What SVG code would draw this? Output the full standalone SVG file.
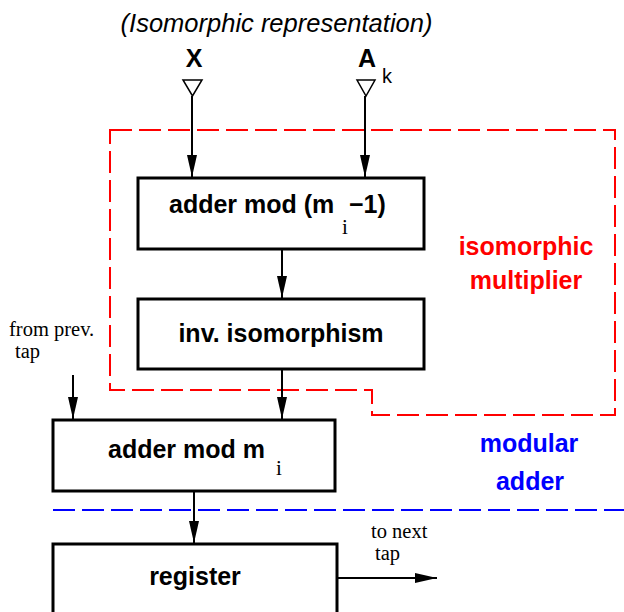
<svg xmlns="http://www.w3.org/2000/svg" width="624" height="612" viewBox="0 0 624 612">
  <style>
    .box { fill: #ffffff; stroke: #000000; stroke-width: 3; }
    .wire { fill: none; stroke: #000000; stroke-width: 2; marker-end: url(#head); }
    .port { fill: #ffffff; stroke: #000000; stroke-width: 1.5; stroke-linejoin: miter; }
    .lbl { font-family: "Liberation Sans", Arial, Helvetica, sans-serif; font-weight: bold; font-size: 25px; fill: #000000; }
    .sub { font-family: "Liberation Serif", "Times New Roman", serif; font-size: 21px; fill: #000000; }
    .note { font-family: "Liberation Serif", "Times New Roman", serif; font-size: 20.5px; fill: #000000; }
    .title { font-family: "Liberation Sans", Arial, Helvetica, sans-serif; font-style: italic; font-size: 25.5px; fill: #000000; }
    .red { fill: #ff0000; }
    .blue { fill: #0000ff; }
    .dashred { fill: none; stroke: #ff0000; stroke-width: 2; stroke-dasharray: 22 7; }
    .dashblue { fill: none; stroke: #0000ff; stroke-width: 2; stroke-dasharray: 22 7; }
  </style>
  <defs>
    <marker id="head" markerUnits="userSpaceOnUse" markerWidth="24" markerHeight="12" refX="22" refY="5" orient="auto">
      <path d="M0,0 L22,5 L0,10 Z" fill="#000000"/>
    </marker>
  </defs>

  <!-- heading -->
  <text class="title" x="276.5" y="32" text-anchor="middle">(Isomorphic representation)</text>

  <!-- group boundaries -->
  <g id="regions">
    <polygon class="dashred" points="110,130 615,130 615,415 372,415 372,390 110,390"/>
    <path class="dashblue" d="M53,510 H624"/>
    <text class="lbl red" x="526" y="255" text-anchor="middle">isomorphic</text>
    <text class="lbl red" x="526" y="289" text-anchor="middle">multiplier</text>
    <text class="lbl blue" x="529" y="452" text-anchor="middle">modular</text>
    <text class="lbl blue" x="530" y="490" text-anchor="middle">adder</text>
  </g>

  <!-- inputs -->
  <g id="input-x">
    <text class="lbl" x="194" y="67" text-anchor="middle">X</text>
    <polygon class="port" points="183,80 202,80 192.5,96"/>
  </g>
  <g id="input-a">
    <text class="lbl" x="367" y="67" text-anchor="middle">A</text>
    <text x="382" y="83" font-family="Liberation Sans, Arial, sans-serif" font-size="20">k</text>
    <polygon class="port" points="357,80 375,80 366,96"/>
  </g>

  <!-- blocks -->
  <g id="adder-mod-mi-1">
    <rect class="box" x="138" y="178" width="286" height="71"/>
    <text class="lbl" x="169" y="213">adder mod (m</text>
    <text class="sub" x="342" y="234">i</text>
    <text class="lbl" x="349" y="213">−1)</text>
  </g>
  <g id="inv-isomorphism">
    <rect class="box" x="138" y="299" width="286" height="70"/>
    <text class="lbl" x="281" y="342" text-anchor="middle">inv. isomorphism</text>
  </g>
  <g id="adder-mod-mi">
    <rect class="box" x="53" y="420" width="282" height="71"/>
    <text class="lbl" x="108" y="458">adder mod m</text>
    <text class="sub" x="276" y="475">i</text>
  </g>
  <g id="register">
    <rect class="box" x="53" y="544" width="284" height="80"/>
    <text class="lbl" x="195" y="585" text-anchor="middle">register</text>
  </g>

  <!-- side notes -->
  <g id="from-prev">
    <text class="note" x="9" y="336">from prev.</text>
    <text class="note" x="15" y="358">tap</text>
  </g>
  <g id="to-next">
    <text class="note" x="371" y="538">to next</text>
    <text class="note" x="375" y="560">tap</text>
  </g>

  <!-- connectors -->
  <g id="connectors">
    <path class="wire" d="M192,96 V177"/>
    <path class="wire" d="M365,96 V177"/>
    <path class="wire" d="M282,250 V298"/>
    <path class="wire" d="M282,370 V419"/>
    <path class="wire" d="M73,375 V419"/>
    <path class="wire" d="M194,492 V543"/>
    <path class="wire" d="M338,578 H437"/>
  </g>
</svg>
